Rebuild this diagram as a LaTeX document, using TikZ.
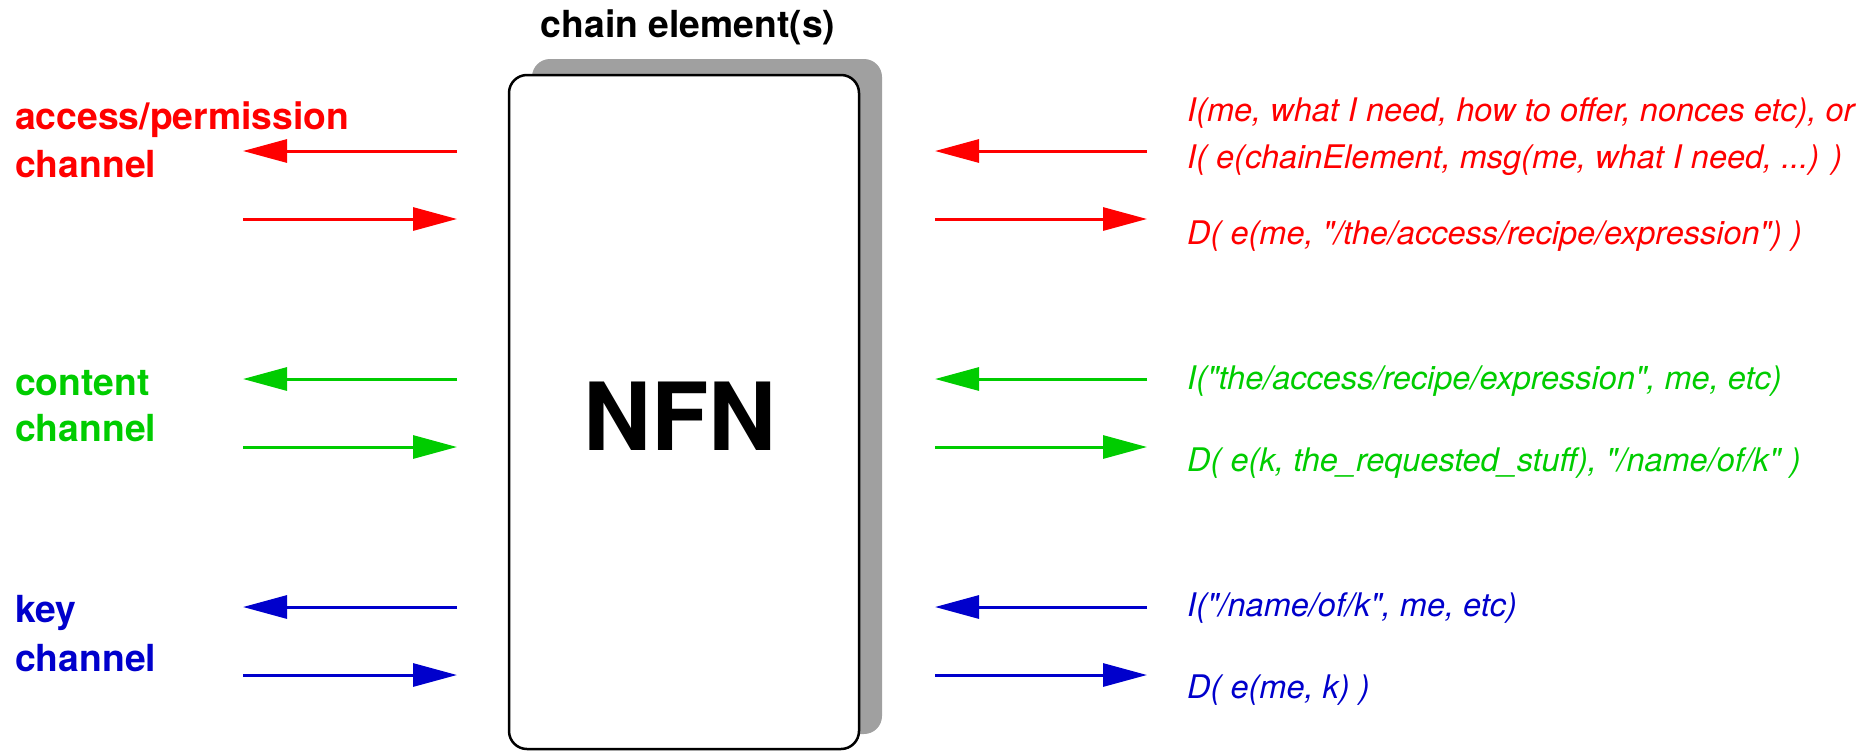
\documentclass[tikz,border=0pt]{standalone}
\usepackage{fontspec}
\setmainfont{TeX Gyre Heros}[Ligatures=TeXOff]
\usetikzlibrary{arrows.meta}
\definecolor{fred}{RGB}{255,0,0}
\definecolor{fgreen}{RGB}{0,204,0}
\definecolor{fblue}{RGB}{0,0,204}
\definecolor{shadowgray}{RGB}{160,160,160}
\begin{document}
\begin{tikzpicture}[x=1pt,y=-1pt,
  lbl/.style={anchor=base west, inner sep=0pt, font=\fontsize{37.3}{46}\selectfont\bfseries},
  msg/.style={anchor=base west, inner sep=0pt, font=\fontsize{32.5}{47}\selectfont\itshape},
  flow/.style={line width=3pt, -{Triangle[length=44pt,width=23pt]}},
  boxstyle/.style={draw=black, fill=white, line width=2.5pt, rounded corners=18pt,
    minimum width=350pt, minimum height=674pt, inner sep=0pt},
]
\useasboundingbox (0,0) rectangle (1863,750);
% shadow and box
\fill[shadowgray, rounded corners=18pt] (532,59) rectangle (882,734);
\node[boxstyle] (box) at (684,412) {};
\node[anchor=base, inner sep=0pt, font=\fontsize{37.3}{46}\selectfont\bfseries] (title) at (688,37) {chain element(s)};
\node[anchor=base, inner sep=0pt, font=\fontsize{94}{94}\selectfont\bfseries] (nfn) at (680,450) {NFN};
% left labels
\node[lbl, text=fred] (acc1) at (15,129) {access/permission};
\node[lbl, text=fred] (acc2) at (15,177) {channel};
\node[lbl, text=fgreen] (con1) at (15,395) {content};
\node[lbl, text=fgreen] (con2) at (15,441) {channel};
\node[lbl, text=fblue] (key1) at (15,622) {key};
\node[lbl, text=fblue] (key2) at (15,671) {channel};
% arrow end points
\foreach \n/\y in {1/151,2/219,3/379,4/447,5/607,6/675}{
  \coordinate (La\n) at (243,\y);
  \coordinate (Lb\n) at (457,\y);
  \coordinate (Ra\n) at (935,\y);
  \coordinate (Rb\n) at (1147,\y);
}
\draw[flow, fred] (Lb1) -- (La1);
\draw[flow, fred] (La2) -- (Lb2);
\draw[flow, fgreen] (Lb3) -- (La3);
\draw[flow, fgreen] (La4) -- (Lb4);
\draw[flow, fblue] (Lb5) -- (La5);
\draw[flow, fblue] (La6) -- (Lb6);
\draw[flow, fred] (Rb1) -- (Ra1);
\draw[flow, fred] (Ra2) -- (Rb2);
\draw[flow, fgreen] (Rb3) -- (Ra3);
\draw[flow, fgreen] (Ra4) -- (Rb4);
\draw[flow, fblue] (Rb5) -- (Ra5);
\draw[flow, fblue] (Ra6) -- (Rb6);
% right messages
\node[msg, text=fred] (m1) at (1187,121) {I(me, what I need, how to offer, nonces etc), or};
\node[msg, text=fred] (m2) at (1187,168) {I( e(chainElement, msg(me, what I need, ...) )};
\node[msg, text=fred] (m3) at (1187,244) {D( e(me, "/the/access/recipe/expression") )};
\node[msg, text=fgreen] (m4) at (1187,389) {I("the/access/recipe/expression", me, etc)};
\node[msg, text=fgreen] (m5) at (1187,471) {D( e(k, the\_requested\_stuff), "/name/of/k" )};
\node[msg, text=fblue] (m6) at (1187,616) {I("/name/of/k", me, etc)};
\node[msg, text=fblue] (m7) at (1187,698) {D( e(me, k) )};
\end{tikzpicture}
\end{document}
